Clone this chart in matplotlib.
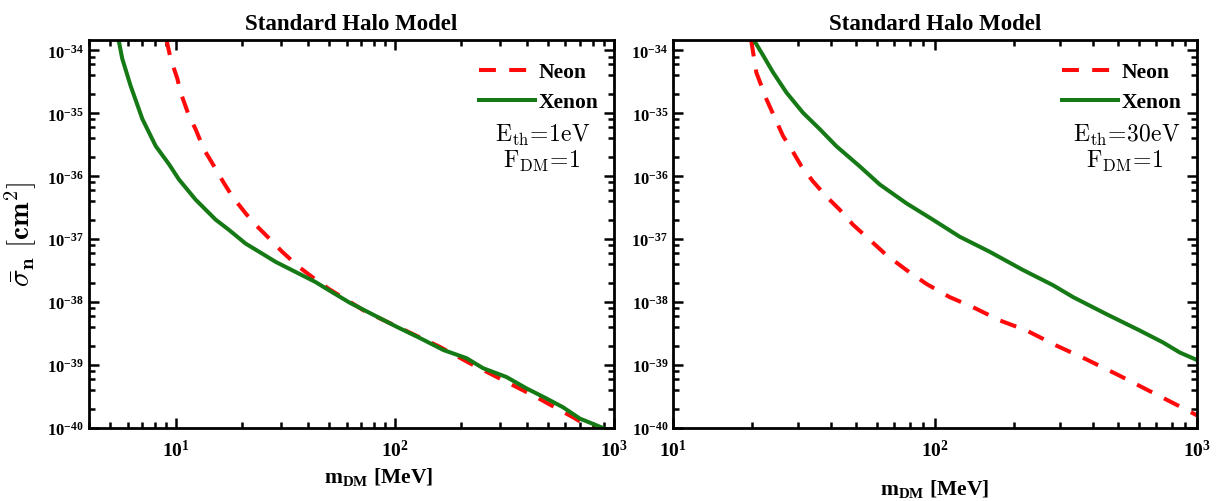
import numpy as np
import matplotlib
matplotlib.use('Agg')
import matplotlib.pyplot as plt
from matplotlib.ticker import LogLocator, FuncFormatter, NullFormatter, FixedLocator

# curves: log10(m_DM / MeV), log10(sigma / cm^2)
# left panel, E_th = 1 eV
l_xe_logm = [0.735, 0.753, 0.791, 0.845, 0.906, 0.967, 1.012, 1.088, 1.18, 1.24, 1.317,
             1.393, 1.454, 1.545, 1.636, 1.697, 1.793, 1.9, 2.006, 2.113, 2.22, 2.326,
             2.402, 2.509, 2.6, 2.691, 2.767, 2.844, 2.95]
l_xe_logs = [-33.81, -34.13, -34.56, -35.09, -35.52, -35.81, -36.05, -36.37, -36.69, -36.85, -37.07,
             -37.23, -37.36, -37.52, -37.68, -37.81, -38.01, -38.2, -38.39, -38.57, -38.76, -38.89,
             -39.05, -39.19, -39.37, -39.53, -39.67, -39.85, -40.0]
l_ne_logm = [0.954, 0.974, 1.005, 1.02, 1.058, 1.088, 1.126, 1.164, 1.218, 1.256, 1.317,
             1.362, 1.431, 1.484, 1.56, 1.621, 1.697, 1.758, 1.865, 2.022, 2.204, 2.341,
             2.493, 2.646, 2.813, 2.92]
l_ne_logs = [-33.81, -34.13, -34.45, -34.67, -35.04, -35.25, -35.57, -35.79, -36.11, -36.32, -36.59,
             -36.77, -37.01, -37.2, -37.44, -37.6, -37.79, -37.92, -38.15, -38.41, -38.71, -38.97,
             -39.24, -39.51, -39.83, -40.05]

# right panel, E_th = 30 eV
r_xe_logm = [1.305, 1.344, 1.382, 1.433, 1.496, 1.56, 1.623, 1.712, 1.789, 1.891, 1.992,
             2.094, 2.209, 2.336, 2.45, 2.527, 2.654, 2.781, 2.87, 2.934, 3.0]
r_xe_logs = [-33.81, -34.08, -34.35, -34.67, -34.99, -35.25, -35.52, -35.84, -36.13, -36.43, -36.69,
             -36.96, -37.2, -37.49, -37.73, -37.92, -38.19, -38.45, -38.64, -38.8, -38.92]
r_ne_logm = [1.298, 1.318, 1.356, 1.382, 1.42, 1.452, 1.49, 1.534, 1.585, 1.636, 1.687,
             1.751, 1.814, 1.891, 1.967, 2.056, 2.145, 2.247, 2.349, 2.463, 2.578, 2.705,
             2.832, 2.959, 3.0]
r_ne_logs = [-33.83, -34.35, -34.77, -35.01, -35.36, -35.57, -35.84, -36.08, -36.32, -36.53, -36.77,
             -37.01, -37.25, -37.49, -37.71, -37.92, -38.08, -38.29, -38.45, -38.69, -38.91, -39.17,
             -39.44, -39.71, -39.8]

y_ticks = [1e-40, 1e-39, 1e-38, 1e-37, 1e-36, 1e-35, 1e-34]

panels = [
    dict(xe=(l_xe_logm, l_xe_logs), ne=(l_ne_logm, l_ne_logs), xlim=(3.99, 1000),
         xticks=[10, 100, 1000], eth='1eV'),
    dict(xe=(r_xe_logm, r_xe_logs), ne=(r_ne_logm, r_ne_logs), xlim=(10, 1000),
         xticks=[10, 100, 1000], eth='30eV'),
]

plt.rcParams['font.family'] = ['Liberation Serif', 'DejaVu Serif']
plt.rcParams['font.weight'] = 'bold'
plt.rcParams['mathtext.fontset'] = 'custom'
plt.rcParams['mathtext.rm'] = 'Liberation Serif:bold'
plt.rcParams['mathtext.bf'] = 'Liberation Serif:bold'
plt.rcParams['mathtext.it'] = 'Liberation Serif:bold'


def pow_fmt(v, pos):
    e = int(round(np.log10(v)))
    return r'$\mathbf{10^{%d}}$' % e


fig = plt.figure(figsize=(12.17, 5.02), dpi=100)
axes = [fig.add_axes([0.0731, 0.1454, 0.4314, 0.7735]),
        fig.add_axes([0.5530, 0.1454, 0.4306, 0.7735])]

for i, (ax, p) in enumerate(zip(axes, panels)):
    ne_m = 10 ** np.array(p['ne'][0])
    ne_s = 10 ** np.array(p['ne'][1])
    xe_m = 10 ** np.array(p['xe'][0])
    xe_s = 10 ** np.array(p['xe'][1])
    ax.plot(ne_m, ne_s, color='#ff0a0a', lw=2.9, dashes=(4.2, 3.3), label='Neon')
    ax.plot(xe_m, xe_s, color='#157a15', lw=2.9, label='Xenon')
    ax.set_xscale('log')
    ax.set_yscale('log')
    ax.set_xlim(*p['xlim'])
    ax.set_ylim(1e-40, 10 ** -33.83)

    ax.yaxis.set_major_locator(FixedLocator(y_ticks))
    ax.xaxis.set_major_locator(FixedLocator(p['xticks']))
    ax.yaxis.set_minor_locator(LogLocator(base=10, subs=(2, 4, 6, 8), numticks=20))
    ax.xaxis.set_minor_locator(LogLocator(base=10, subs=np.arange(2, 10), numticks=20))
    ax.xaxis.set_major_formatter(FuncFormatter(pow_fmt))
    ax.yaxis.set_major_formatter(FuncFormatter(pow_fmt))
    ax.xaxis.set_minor_formatter(NullFormatter())
    ax.yaxis.set_minor_formatter(NullFormatter())
    ax.tick_params(which='both', direction='in', top=True, right=True, width=1.8)
    ax.tick_params(which='major', length=7.5, labelsize=12)
    ax.tick_params(which='minor', length=4)
    ax.tick_params(axis='x', which='major', pad=8, labelsize=14)
    for s in ax.spines.values():
        s.set_linewidth(2)

    ax.set_title('Standard Halo Model', fontsize=16.5, fontweight='bold', pad=8)
    ax.set_xlabel(r'$\mathbf{m_{DM}}$ [MeV]', fontsize=15.5, fontweight='bold',
                  labelpad=1 if i == 0 else 12)
    if i == 0:
        ax.xaxis.set_label_coords(0.552, -0.095)

    ax.legend(loc='upper right', frameon=False, fontsize=15.5, handlelength=2.6,
              handletextpad=0.15, borderaxespad=0.2, labelspacing=0.45,
              bbox_to_anchor=(0.995, 0.975))
    ax.text(0.865, 0.757, r'$\mathrm{E_{th}\!=\!%s}$' % p['eth'], transform=ax.transAxes,
            fontsize=17, ha='center', va='center', math_fontfamily='cm')
    ax.text(0.862, 0.69, r'$\mathrm{F_{DM}\!=\!1}$', transform=ax.transAxes,
            fontsize=17, ha='center', va='center', math_fontfamily='cm')

axes[0].set_ylabel(r'$\bar{\sigma}_{\mathbf{n}}\ \mathbf{[cm^2]}$', fontsize=21,
                   math_fontfamily='cm', labelpad=6)

fig.savefig('out.png', dpi=100)
